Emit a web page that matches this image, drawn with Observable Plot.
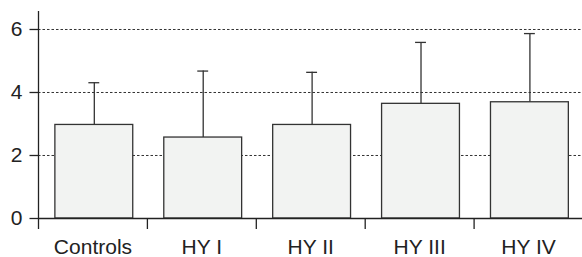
<!DOCTYPE html>
<html>
<head>
<meta charset="utf-8">
<script src="https://cdn.jsdelivr.net/npm/d3@7"></script>
<script src="https://cdn.jsdelivr.net/npm/@observablehq/plot@0.6"></script>
<style>
  html, body { margin: 0; padding: 0; background: #fff; }
</style>
</head>
<body>
<div id="chart"></div>
<script>
const categories = ["Controls", "HY I", "HY II", "HY III", "HY IV"];
const means = [2.97, 2.57, 2.97, 3.64, 3.69];
const upper = [4.31, 4.68, 4.64, 5.59, 5.87];
const yTicks = [0, 2, 4, 6];
const gridValues = [2, 4, 6];

const data = categories.map((c, i) => ({ c, i, mean: means[i], upper: upper[i] }));

const barL = 0.155, barR = 0.87, barC = (barL + barR) / 2, capHalf = 0.05;

const chart = Plot.plot({
  width: 582,
  height: 257,
  marginLeft: 38,
  marginRight: 0,
  marginTop: 11,
  marginBottom: 39,
  x: { domain: [0, categories.length], range: [38, 582.5] },
  y: { domain: [0, 6.571], range: [218, 11] },
  style: { fontFamily: "'Liberation Sans', Arial, sans-serif", background: "white", color: "#222" },
  marks: [
    Plot.ruleY(gridValues, { stroke: "#333", strokeWidth: 1, strokeDasharray: "2.5,2" }),
    Plot.ruleX(data, { x: d => d.i + barC, y1: "mean", y2: "upper", stroke: "#333", strokeWidth: 1.3 }),
    Plot.ruleY(data, { y: "upper", x1: d => d.i + barC - capHalf, x2: d => d.i + barC + capHalf, stroke: "#333", strokeWidth: 1.3 }),
    Plot.rectY(data, { x1: d => d.i + barL, x2: d => d.i + barR, y1: 0, y2: "mean", fill: "#f2f3f2", stroke: "#333", strokeWidth: 1.3 }),
    Plot.axisY({ ticks: yTicks, tickSize: 8.5, tickPadding: 7.5, fontSize: 21, tickFormat: d => String(d), label: null, strokeWidth: 1.3 }),
    Plot.axisX({ ticks: d3.range(categories.length + 1), tickSize: 11, tickFormat: () => "", label: null, strokeWidth: 1.3 }),
    Plot.axisX({ ticks: categories.map((c, i) => i + 0.5), tickSize: 0, tickPadding: 21, fontSize: 21, tickFormat: d => categories[Math.floor(d)], label: null }),
    Plot.ruleY([0], { stroke: "#222", strokeWidth: 1.3 }),
    Plot.ruleX([0], { stroke: "#222", strokeWidth: 1.3 })
  ]
});
document.getElementById("chart").appendChild(chart);
</script>
</body>
</html>
